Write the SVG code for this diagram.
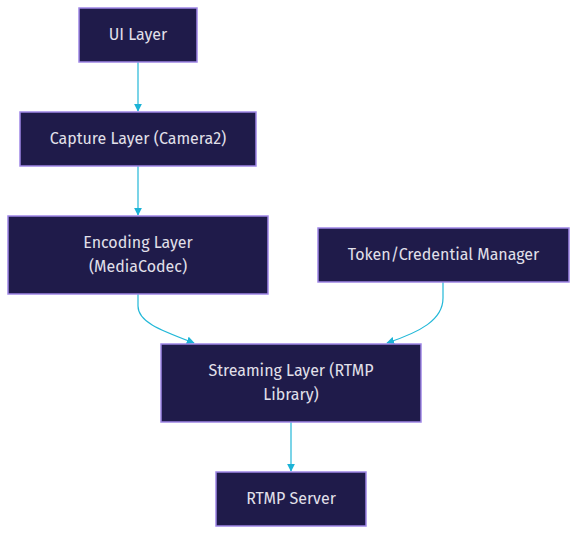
<svg xmlns="http://www.w3.org/2000/svg" width="577" height="534" viewBox="0 0 577 534">
<style>
.node rect{fill:#1f1b4a;stroke:#9f86e6;stroke-width:1.5}
.node text{fill:#e2e0ea;font-family:"Fira Sans","Lato","Noto Sans",sans-serif;font-size:16px;text-anchor:middle}
.edge{fill:none;stroke:#22b8d8;stroke-width:1.2}
</style>
<defs>
<marker id="arr" viewBox="0 0 10 10" refX="9" refY="5" markerWidth="8" markerHeight="8" markerUnits="userSpaceOnUse" orient="auto">
<path d="M0,0 L10,5 L0,10 z" fill="#1cb3d6"/>
</marker>
</defs>
<rect width="577" height="534" fill="#ffffff"/>
<g id="connectors">
<path class="edge" d="M138,62 V111" marker-end="url(#arr)"/>
<path class="edge" d="M138,166 V215" marker-end="url(#arr)"/>
<path class="edge" d="M138,294 V306 C138,322 160,330 194,343" marker-end="url(#arr)"/>
<path class="edge" d="M443,282 V298 C443,320 420,332 387,343" marker-end="url(#arr)"/>
<path class="edge" d="M291,422 V471" marker-end="url(#arr)"/>
</g>
<g id="ui" class="node"><rect x="79" y="8" width="118" height="54"/><text x="138" y="40">UI Layer</text></g>
<g id="capture" class="node"><rect x="20" y="112" width="236" height="54"/><text x="138" y="144">Capture Layer (Camera2)</text></g>
<g id="encoding" class="node"><rect x="8" y="216" width="260" height="78"/><text x="138" y="248">Encoding Layer</text><text x="138" y="272">(MediaCodec)</text></g>
<g id="token" class="node"><rect x="318" y="228" width="251" height="54"/><text x="443.5" y="260">Token/Credential Manager</text></g>
<g id="streaming" class="node"><rect x="161" y="344" width="260" height="78"/><text x="291" y="376">Streaming Layer (RTMP</text><text x="291" y="400">Library)</text></g>
<g id="server" class="node"><rect x="216" y="472" width="150" height="54"/><text x="291" y="504">RTMP Server</text></g>
</svg>
